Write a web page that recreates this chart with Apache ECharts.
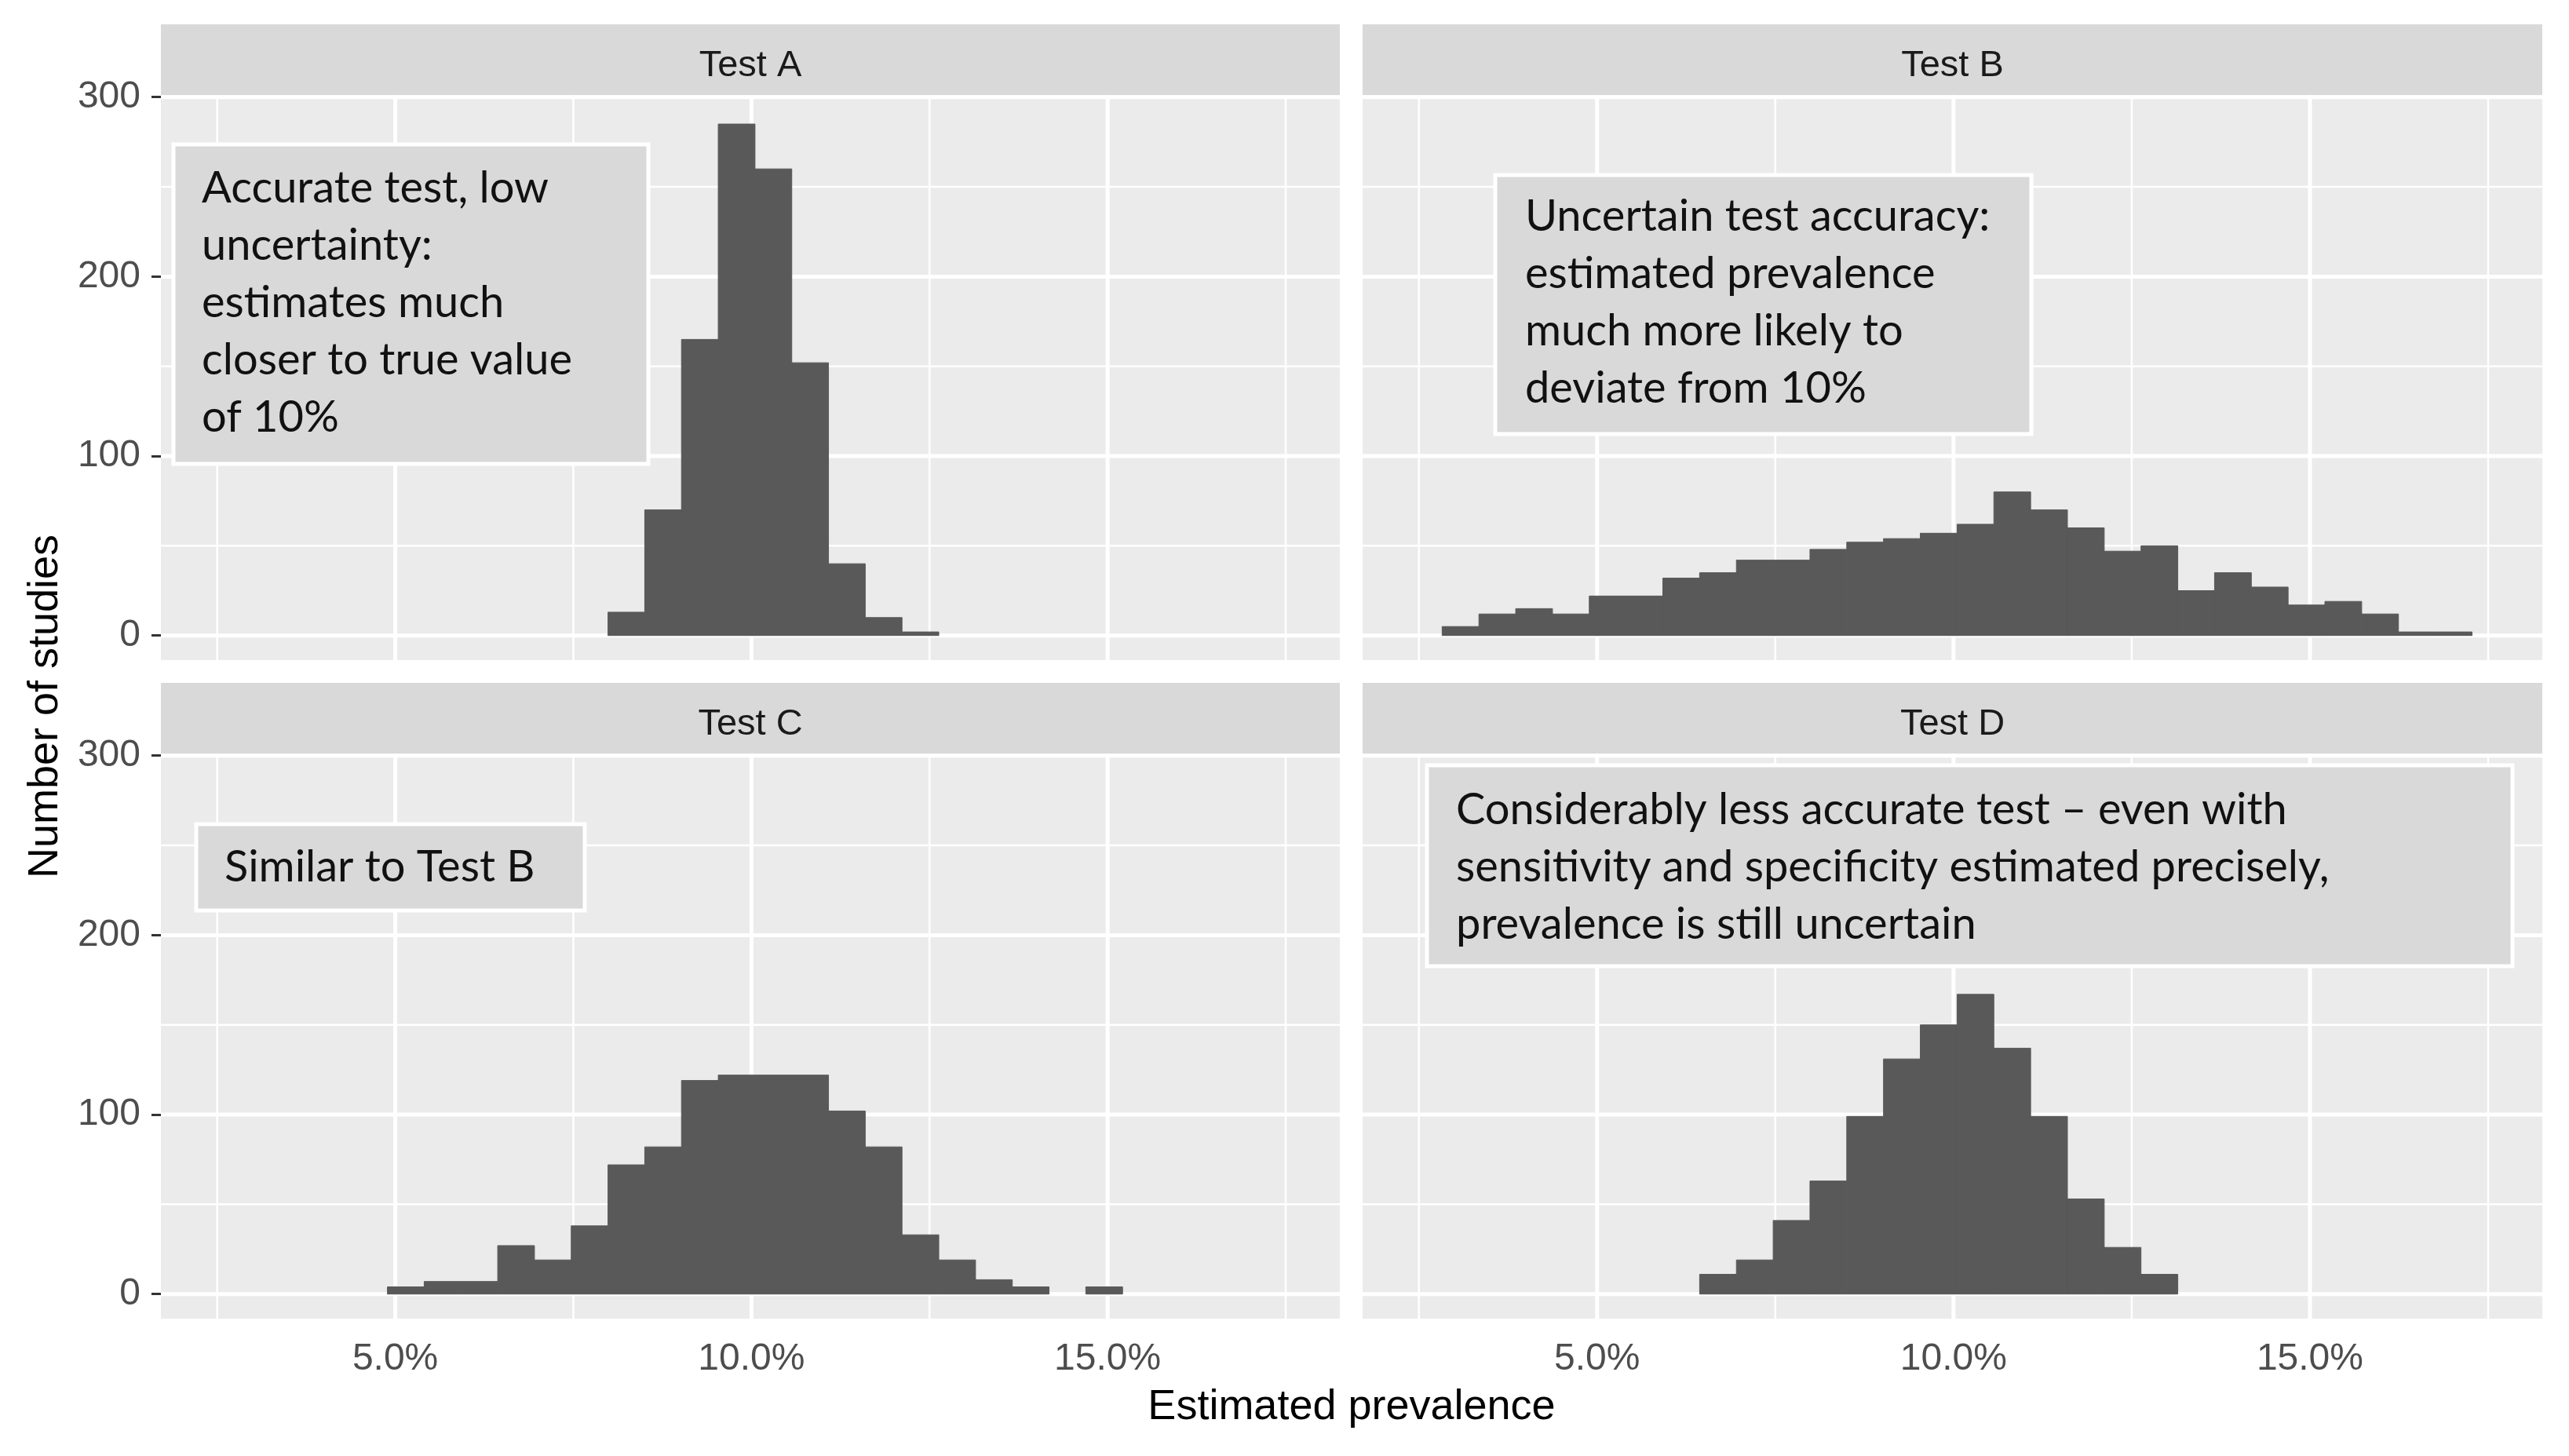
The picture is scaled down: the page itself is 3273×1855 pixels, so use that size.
<!DOCTYPE html>
<html><head><meta charset="utf-8">
<script src="https://cdn.jsdelivr.net/npm/echarts@6/dist/echarts.min.js"></script>
<style>html,body{margin:0;padding:0;background:#fff}#c{width:3273px;height:1855px}</style>
</head><body><div id="c"></div>
<script>
// ---- data ----
const panelNames = ['Test A', 'Test B', 'Test C', 'Test D'];
const binStart = 2.826;   // lower edge of first bin (% prevalence)
const binWidth = 0.516;   // histogram bin width (%)
const countsA = [0,0,0,0,0,0,0,0,0,0,13,70,165,285,260,152,40,10,2,0,0,0,0,0,0,0,0,0];
const countsB = [5,12,15,12,22,22,32,35,42,42,48,52,54,57,62,80,70,60,47,50,25,35,27,17,19,12,2,2];
const countsC = [0,0,0,0,4,7,7,27,19,38,72,82,119,122,122,122,102,82,33,19,8,4,0,4,0,0,0,0];
const countsD = [0,0,0,0,0,0,0,11,19,41,63,99,131,150,167,137,99,53,26,11,0,0,0,0,0,0,0,0];
const xTicks = [5, 10, 15];
const xTickLabels = ['5.0%', '10.0%', '15.0%'];
const xMinor = [2.5, 7.5, 12.5, 17.5];
const yTicks = [0, 100, 200, 300];
const yTickLabels = ['0', '100', '200', '300'];
const yMinor = [50, 150, 250];
const notes = [
  'Accurate test, low\nuncertainty:\nestimates much\ncloser to true value\nof 10%',
  'Uncertain test accuracy:\nestimated prevalence\nmuch more likely to\ndeviate from 10%',
  'Similar to Test B',
  'Considerably less accurate test \u2013 even with\nsensitivity and specificity estimated precisely,\nprevalence is still uncertain'
];
const xTitle = 'Estimated prevalence';
const yTitle = 'Number of studies';

// ---- layout ----
const allCounts = [countsA, countsB, countsC, countsD];
const colL = [205, 1736], colW = [1502, 1503];
const rowT = [121, 960], rowH = 720, stripH = 90;
const X_MIN = 1.71, X_MAX = 18.26, Y_MIN = -13.7, Y_MAX = 301.2;
const tickFont = "'Liberation Sans', sans-serif";
const noteBoxes = [
  {x: 221, y: 184, w: 605, h: 407, tx: 257, ty: 203},
  {x: 1905, y: 223, w: 683, h: 330, tx: 1943, ty: 239},
  {x: 250, y: 1050, w: 495, h: 110, tx: 286, ty: 1068},
  {x: 1818, y: 975, w: 1383, h: 256, tx: 1855, ty: 995}
];

const grids = [], xAxes = [], yAxes = [], series = [], graphics = [];
for (let i = 0; i < 4; i++) {
  const c = i % 2, r = Math.floor(i / 2);
  grids.push({left: colL[c], top: rowT[r], width: colW[c], height: rowH,
    show: true, backgroundColor: '#EBEBEB', borderWidth: 0, containLabel: false});
  const bottom = r === 1, leftCol = c === 0;
  xAxes.push({type: 'value', gridIndex: i, min: X_MIN, max: X_MAX,
    axisLine: {show: false}, splitLine: {show: false},
    axisTick: {show: bottom, customValues: xTicks, length: 12, lineStyle: {color: '#333333', width: 3}},
    axisLabel: {show: bottom, customValues: xTicks, margin: 28, fontSize: 48,
      fontFamily: tickFont, color: '#4D4D4D',
      formatter: v => xTickLabels[xTicks.indexOf(v)]}
  });
  yAxes.push({type: 'value', gridIndex: i, min: Y_MIN, max: Y_MAX,
    axisLine: {show: false}, splitLine: {show: false},
    axisTick: {show: leftCol, customValues: yTicks, length: 12, lineStyle: {color: '#333333', width: 3}},
    axisLabel: {show: leftCol, customValues: yTicks, margin: 26, fontSize: 48,
      fontFamily: tickFont, color: '#4D4D4D',
      formatter: v => yTickLabels[yTicks.indexOf(v)]}
  });
  // vertical grid lines
  series.push({type: 'custom', xAxisIndex: i, yAxisIndex: i, z: 1, silent: true, clip: true,
    data: xMinor.map(v => [v, 0, 2.5]).concat(xTicks.map(v => [v, 0, 5])),
    renderItem(params, api) {
      const cs = params.coordSys;
      const x = api.coord([api.value(0), 0])[0];
      return {type: 'line', shape: {x1: x, y1: cs.y, x2: x, y2: cs.y + cs.height},
        style: {stroke: '#FFFFFF', lineWidth: api.value(2)}};
    }});
  // horizontal grid lines
  series.push({type: 'custom', xAxisIndex: i, yAxisIndex: i, z: 1, silent: true, clip: true,
    data: yMinor.map(v => [5, v, 2.5]).concat(yTicks.map(v => [5, v, 5])),
    renderItem(params, api) {
      const cs = params.coordSys;
      const y = api.coord([5, api.value(1)])[1];
      return {type: 'line', shape: {x1: cs.x, y1: y, x2: cs.x + cs.width, y2: y},
        style: {stroke: '#FFFFFF', lineWidth: api.value(2)}};
    }});
  // histogram bars
  const counts = allCounts[i];
  series.push({type: 'custom', name: panelNames[i], xAxisIndex: i, yAxisIndex: i, z: 3,
    data: counts.map((n, k) => [binStart + k * binWidth, binStart + (k + 1) * binWidth, n]).filter(d => d[2] > 0),
    encode: {x: [0, 1], y: 2},
    renderItem(params, api) {
      const p0 = api.coord([api.value(0), api.value(2)]);
      const p1 = api.coord([api.value(1), 0]);
      return {type: 'rect', shape: {x: p0[0], y: p0[1], width: p1[0] - p0[0], height: p1[1] - p0[1]},
        style: {fill: '#595959', stroke: '#595959', lineWidth: 1}};
    }});
  // strip
  graphics.push({type: 'rect', shape: {x: colL[c], y: rowT[r] - stripH, width: colW[c], height: stripH},
    style: {fill: '#D9D9D9'}, z: 10});
  graphics.push({type: 'text', x: colL[c] + colW[c] / 2, y: rowT[r] - stripH / 2 + 8, z: 11,
    style: {text: panelNames[i], fontSize: 47, fontFamily: tickFont, fill: '#1A1A1A',
      align: 'center', verticalAlign: 'middle'}});
  // annotation label
  const b = noteBoxes[i];
  graphics.push({type: 'rect', shape: {x: b.x, y: b.y, width: b.w, height: b.h},
    style: {fill: '#D9D9D9', stroke: '#FFFFFF', lineWidth: 5}, z: 20});
  graphics.push({type: 'text', x: b.tx, y: b.ty, z: 21,
    style: {text: notes[i], fontSize: 56, fontFamily: 'Lato', fill: '#111111',
      lineHeight: 73, align: 'left', verticalAlign: 'top'}});
}
graphics.push({type: 'text', x: 1722, y: 1793, z: 30,
  style: {text: xTitle, fontSize: 54, fontFamily: 'Liberation Sans', fill: '#000000',
    align: 'center', verticalAlign: 'middle'}});
graphics.push({type: 'text', x: 58, y: 900, rotation: Math.PI / 2, z: 30,
  style: {text: yTitle, fontSize: 54, fontFamily: 'Liberation Sans', fill: '#000000',
    align: 'center', verticalAlign: 'middle'}});

const chart = echarts.init(document.getElementById('c'), null, {renderer: 'canvas'});
chart.setOption({
  animation: false,
  backgroundColor: '#FFFFFF',
  grid: grids, xAxis: xAxes, yAxis: yAxes, series: series, graphic: graphics
});
</script></body></html>
